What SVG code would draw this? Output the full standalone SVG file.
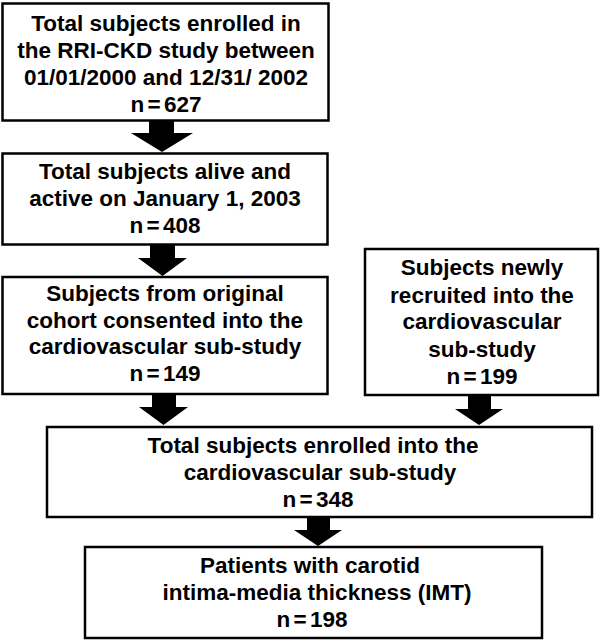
<svg xmlns="http://www.w3.org/2000/svg" width="600" height="641" viewBox="0 0 600 641">
<style>
.box{fill:#fff;stroke:#000;stroke-width:2.5}
.t{font-family:"Liberation Sans",Arial,sans-serif;font-weight:bold;font-size:22.5px;fill:#000;text-anchor:middle}
.n{word-spacing:-3px}
.arr{fill:#000;stroke:none}
</style>
<rect width="600" height="641" fill="#fff"/>
<g id="connectors">
<polygon class="arr" points="149,121 174,121 174,133 193,133 162,152 131,133 149,133"/>
<polygon class="arr" points="150,245 175,245 175,258 187,258 162.5,276 138,258 150,258"/>
<polygon class="arr" points="152,394 176,394 176,407 188,407 163.5,425 139,407 152,407"/>
<polygon class="arr" points="468,395 491,395 491,409 503,409 479,425 455,409 468,409"/>
<polygon class="arr" points="307,517 330,517 330,530 342,530 318,546 294,530 307,530"/>
</g>
<g id="node1">
<rect class="box" x="2.5" y="3.5" width="326" height="117"/>
<text class="t" x="166" y="31">Total subjects enrolled in</text>
<text class="t" x="166" y="58">the RRI-CKD study between</text>
<text class="t" x="166" y="85">01/01/2000 and 12/31/ 2002</text>
<text class="t n" x="166" y="112">n = 627</text>
</g>
<g id="node2">
<rect class="box" x="2.5" y="153.5" width="325" height="91"/>
<text class="t" x="165" y="179">Total subjects alive and</text>
<text class="t" x="165" y="206">active on January 1, 2003</text>
<text class="t n" x="165" y="233">n = 408</text>
</g>
<g id="node3">
<rect class="box" x="2.5" y="277" width="325" height="117"/>
<text class="t" x="165" y="301">Subjects from original</text>
<text class="t" x="165" y="328">cohort consented into the</text>
<text class="t" x="165" y="354">cardiovascular sub-study</text>
<text class="t n" x="165" y="381">n = 149</text>
</g>
<g id="node3b">
<rect class="box" x="365" y="249" width="233" height="146"/>
<text class="t" x="482" y="275">Subjects newly</text>
<text class="t" x="482" y="303">recruited into the</text>
<text class="t" x="482" y="329">cardiovascular</text>
<text class="t" x="482" y="357">sub-study</text>
<text class="t n" x="482" y="384">n = 199</text>
</g>
<g id="node4">
<rect class="box" x="47" y="427" width="545" height="90"/>
<text class="t" x="313" y="453">Total subjects enrolled into the</text>
<text class="t" x="320" y="480">cardiovascular sub-study</text>
<text class="t n" x="318" y="507">n = 348</text>
</g>
<g id="node5">
<rect class="box" x="85" y="547" width="457" height="91"/>
<text class="t" x="310" y="573">Patients with carotid</text>
<text class="t" x="317" y="600">intima-media thickness (IMT)</text>
<text class="t n" x="312" y="627">n = 198</text>
</g>
</svg>
